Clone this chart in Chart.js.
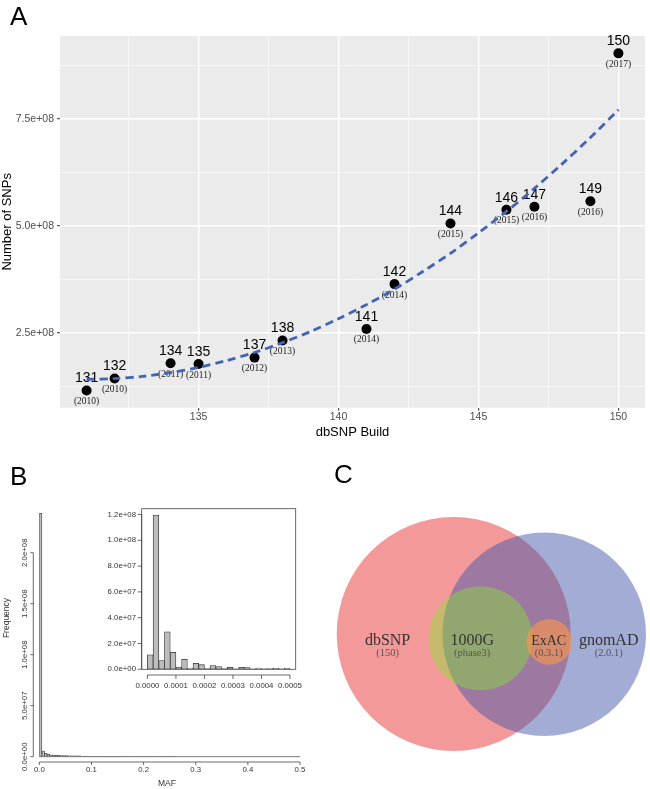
<!DOCTYPE html>
<html>
<head>
<meta charset="utf-8">
<script src="https://cdn.jsdelivr.net/npm/chart.js@4.4.0/dist/chart.umd.min.js"></script>
<style>
  body { margin: 0; background: #fff; }
  #page { position: relative; width: 650px; height: 789px; overflow: hidden; }
  canvas { position: absolute; }
  .tag { position: absolute; font: 26px/26px 'Liberation Sans', Arial, sans-serif; color: #000; }
</style>
</head>
<body>
<div id="page">
  <canvas id="chartA" width="650" height="440" style="left:0;top:0"></canvas>
  <canvas id="chartB" width="325" height="299" style="left:0;top:490px"></canvas>
  <canvas id="chartInset" width="230" height="200" style="left:95px;top:500px"></canvas>
  <canvas id="chartC" width="325" height="299" style="left:325px;top:490px"></canvas>
  <div class="tag" style="left:10px;top:3px">A</div>
  <div class="tag" style="left:10px;top:463px">B</div>
  <div class="tag" style="left:334px;top:461px">C</div>
</div>
<script>
// --- panel A: SNP count per dbSNP build
const builds = [131, 132, 134, 135, 137, 138, 141, 142, 144, 146, 147, 149, 150];
const snpCounts = [1.15e8, 1.43e8, 1.79e8, 1.77e8, 1.92e8, 2.32e8, 2.59e8, 3.64e8, 5.06e8, 5.38e8, 5.45e8, 5.58e8, 9.04e8];
const releaseYears = ['(2010)', '(2010)', '(2011)', '(2011)', '(2012)', '(2013)', '(2014)', '(2014)', '(2015)', '(2015)', '(2016)', '(2016)', '(2017)'];
const trendBuilds = [131, 132, 133, 134, 135, 136, 137, 138, 139, 140, 141, 142, 143, 144, 145, 146, 147, 148, 149, 150];
const trendCounts = [1.41e8, 1.43e8, 1.48e8, 1.57e8, 1.69e8, 1.85e8, 2.04e8, 2.27e8, 2.53e8, 2.83e8, 3.16e8, 3.52e8, 3.93e8, 4.36e8, 4.84e8, 5.34e8, 5.88e8, 6.46e8, 7.07e8, 7.72e8];
const buildTicks = [132.5, 135, 137.5, 140, 142.5, 145, 147.5, 150];
const buildTickLabels = ['', '135', '', '140', '', '145', '', '150'];
const countTicks = [1.25e8, 2.5e8, 3.75e8, 5e8, 6.25e8, 7.5e8, 8.75e8];
const countTickLabels = ['', '2.5e+08', '', '5.0e+08', '', '7.5e+08', ''];

// --- panel B: MAF histogram (bins of 0.005) and inset (bins of 0.00002)
const mafBinWidth = 0.005;
const mafCounts = [
  238600000, 5600000, 3300000, 2400000, 1900000, 1600000, 1400000, 1250000, 1150000, 1050000,
  1000000, 950000, 900000, 870000, 840000, 800000, 420000, 410000, 385000, 380000,
  372000, 358000, 351000, 346000, 338000, 336000, 329000, 327000, 318000, 316000,
  311000, 303000, 301000, 297000, 290000, 289000, 283000, 281000, 276000, 275000,
  270000, 268000, 266000, 261000, 259000, 257000, 252000, 251000, 247000, 246000,
  244000, 241000, 240000, 237000, 236000, 233000, 232000, 231000, 227000, 226000,
  225000, 221000, 220000, 219000, 215000, 214000, 213000, 209000, 208000, 207000,
  204000, 201000, 200000, 199000, 195000, 194000, 193000, 189000, 188000, 187000,
  184000, 183000, 179000, 178000, 177000, 173000, 172000, 171000, 168000, 166000,
  165000, 161000, 160000, 159000, 156000, 154000, 153000, 150000, 148000, 147000
];
const mafTicks = [0, 0.1, 0.2, 0.3, 0.4, 0.5];
const mafTickLabels = ['0.0', '0.1', '0.2', '0.3', '0.4', '0.5'];
const freqTicks = [0, 5e7, 1e8, 1.5e8, 2e8];
const freqTickLabels = ['0.0e+00', '5.0e+07', '1.0e+08', '1.5e+08', '2.0e+08'];

const insetBinWidth = 0.00002;
const insetCounts = [
  11200000, 119600000, 6800000, 29100000, 13200000, 1800000, 7800000, 1000000, 4700000, 3600000,
  500000, 2900000, 2100000, 500000, 1600000, 300000, 1500000, 1300000, 300000, 1000000,
  300000, 600000, 800000, 300000, 800000
];
const insetTicks = [0, 0.0001, 0.0002, 0.0003, 0.0004, 0.0005];
const insetTickLabels = ['0.0000', '0.0001', '0.0002', '0.0003', '0.0004', '0.0005'];
const insetFreqTicks = [0, 2e7, 4e7, 6e7, 8e7, 1e8, 1.2e8];
const insetFreqTickLabels = ['0.0e+00', '2.0e+07', '4.0e+07', '6.0e+07', '8.0e+07', '1.0e+08', '1.2e+08'];

// --- panel C: Venn of variant sources (units: dbSNP radius = 100)
const vennSets = ['dbSNP', 'gnomAD', '1000G', 'ExAC'];
const vennVersions = ['(150)', '(2.0.1)', '(phase3)', '(0.3.1)'];
const vennCx = [0, 77.4, 22.9, 81.7];
const vennCy = [0, -0.2, -3.7, -6.8];
const vennR = [100, 87, 44.4, 19.5];
const vennColors = ['rgba(234,52,54,0.5)', 'rgba(71,89,169,0.5)', 'rgba(130,235,40,0.4)', 'rgba(252,150,72,0.62)'];
const vennLabelX = [-56.5, 132.5, 15.8, 81.2];
const vennNameY = -9.8;
const vennSubY = -19.2;
const vennXRange = [-110, 167.8];
const vennYRange = [-132.5, 123.1];

Chart.defaults.font.family = "'Liberation Sans', Arial, sans-serif";
Chart.defaults.animation = false;
Chart.defaults.plugins.legend.display = false;
Chart.defaults.plugins.tooltip.enabled = false;

// grey ggplot panel
const panelBg = {
  id: 'panelBg',
  beforeDraw(chart, args, o) {
    if (!o.color) return;
    const {ctx, chartArea: a} = chart;
    ctx.save();
    ctx.fillStyle = o.color;
    ctx.fillRect(a.left, a.top, a.right - a.left, a.bottom - a.top);
    ctx.restore();
  }
};

// build number above each point, release year below
const buildLabels = {
  id: 'buildLabels',
  afterDatasetDraw(chart, args) {
    if (args.index !== 1) return;
    const {ctx} = chart;
    ctx.save();
    ctx.textAlign = 'center';
    ctx.textBaseline = 'middle';
    args.meta.data.forEach((pt, i) => {
      ctx.fillStyle = '#000';
      ctx.font = "14px 'Liberation Sans', Arial, sans-serif";
      ctx.fillText(String(builds[i]), pt.x, pt.y - 12);
      ctx.fillStyle = '#222';
      ctx.font = "9.5px 'Liberation Serif', 'Times New Roman', serif";
      ctx.fillText(releaseYears[i], pt.x, pt.y + 11);
    });
    ctx.restore();
  }
};

// base R style axes (detached lines spanning the tick range)
const baseAxes = {
  id: 'baseAxes',
  afterDraw(chart, args, o) {
    if (!o.xTicks) return;
    const {ctx, chartArea: a, scales: {x, y}} = chart;
    const line = (x0, y0, x1, y1) => { ctx.beginPath(); ctx.moveTo(x0, y0); ctx.lineTo(x1, y1); ctx.stroke(); };
    ctx.save();
    ctx.strokeStyle = '#444';
    ctx.fillStyle = '#333';
    ctx.lineWidth = 0.8;
    ctx.font = o.font;
    if (o.box) ctx.strokeRect(a.left, a.top, a.right - a.left, a.bottom - a.top);
    if (o.baseline) {
      ctx.strokeStyle = '#777';
      line(x.getPixelForValue(o.xTicks[0]), y.getPixelForValue(0), x.getPixelForValue(o.xTicks[o.xTicks.length - 1]), y.getPixelForValue(0));
      ctx.strokeStyle = '#444';
    }
    // x axis
    const xy = a.bottom + o.xGap;
    line(x.getPixelForValue(o.xTicks[0]), xy, x.getPixelForValue(o.xTicks[o.xTicks.length - 1]), xy);
    ctx.textAlign = 'center';
    ctx.textBaseline = 'middle';
    o.xTicks.forEach((v, i) => {
      const px = x.getPixelForValue(v);
      line(px, xy, px, xy + o.tick);
      ctx.fillText(o.xLabels[i], px, xy + o.xLabelDist);
    });
    // y axis
    const yx = a.left - o.yGap;
    line(yx, y.getPixelForValue(o.yTicks[0]), yx, y.getPixelForValue(o.yTicks[o.yTicks.length - 1]));
    o.yTicks.forEach((v, i) => {
      const py = y.getPixelForValue(v);
      line(yx - o.tick, py, yx, py);
      if (o.yRotate) {
        ctx.save();
        ctx.translate(yx - o.yLabelDist, py);
        ctx.rotate(-Math.PI / 2);
        ctx.textAlign = 'center';
        ctx.fillText(o.yLabels[i], 0, 0);
        ctx.restore();
      } else {
        ctx.textAlign = 'right';
        ctx.fillText(o.yLabels[i], yx - o.yLabelDist, py);
      }
    });
    // axis titles
    if (o.xTitle) {
      ctx.font = o.titleFont;
      ctx.textAlign = 'center';
      ctx.fillText(o.xTitle, o.xTitlePos[0], o.xTitlePos[1]);
      ctx.save();
      ctx.translate(o.yTitlePos[0], o.yTitlePos[1]);
      ctx.rotate(-Math.PI / 2);
      ctx.fillText(o.yTitle, 0, 0);
      ctx.restore();
    }
    ctx.restore();
  }
};

// Venn set names
const vennText = {
  id: 'vennText',
  afterDatasetsDraw(chart) {
    const {ctx, scales: {x, y}} = chart;
    ctx.save();
    ctx.textAlign = 'center';
    ctx.textBaseline = 'alphabetic';
    vennSets.forEach((name, i) => {
      const px = x.getPixelForValue(vennLabelX[i]);
      ctx.fillStyle = '#333';
      ctx.font = (name === 'ExAC' ? '14px' : '16px') + " 'Liberation Serif', 'Times New Roman', serif";
      ctx.fillText(name, px, y.getPixelForValue(vennNameY));
      ctx.fillStyle = '#555';
      ctx.font = "10.5px 'Liberation Serif', 'Times New Roman', serif";
      ctx.fillText(vennVersions[i], px, y.getPixelForValue(vennSubY));
    });
    ctx.restore();
  }
};

Chart.register(panelBg, baseAxes);

// ✅ Panel A
new Chart(document.getElementById('chartA'), {
  type: 'scatter',
  data: {
    datasets: [
      {
        type: 'line',
        data: trendBuilds.map((b, i) => ({x: b, y: trendCounts[i]})),
        borderColor: '#4264B4',
        borderWidth: 2.8,
        borderDash: [8, 5],
        pointRadius: 0,
        tension: 0.3,
        fill: false
      },
      {
        data: builds.map((b, i) => ({x: b, y: snpCounts[i]})),
        pointRadius: 5,
        pointBackgroundColor: '#000',
        pointBorderWidth: 0
      }
    ]
  },
  options: {
    responsive: false,
    events: [],
    layout: {padding: {top: 36, left: 0, right: 0, bottom: 0}},
    plugins: {panelBg: {color: '#EBEBEB'}},
    scales: {
      x: {
        type: 'linear',
        min: 130.05,
        max: 150.95,
        afterBuildTicks: s => { s.ticks = buildTicks.map(v => ({value: v})); },
        afterFit: s => { s.height = 32.3; },
        ticks: {
          callback: (v, i) => buildTickLabels[i],
          color: '#4D4D4D',
          font: {size: 10.5},
          padding: 0,
          maxRotation: 0,
          autoSkip: false
        },
        grid: {
          color: '#fff',
          lineWidth: c => (buildTickLabels[c.index] ? 1.4 : 0.6),
          tickColor: c => (buildTickLabels[c.index] ? '#333' : 'rgba(0,0,0,0)'),
          tickWidth: 1,
          tickLength: 3
        },
        border: {display: false},
        title: {display: true, text: 'dbSNP Build', color: '#000', font: {size: 13}, padding: 0}
      },
      y: {
        type: 'linear',
        min: 0.748e8,
        max: 9.446e8,
        afterBuildTicks: s => { s.ticks = countTicks.map(v => ({value: v})); },
        afterFit: s => { s.width = 60; },
        ticks: {
          callback: (v, i) => countTickLabels[i],
          color: '#4D4D4D',
          font: {size: 10.5},
          padding: 3,
          autoSkip: false
        },
        grid: {
          color: '#fff',
          lineWidth: c => (countTickLabels[c.index] ? 1.4 : 0.6),
          tickColor: c => (countTickLabels[c.index] ? '#333' : 'rgba(0,0,0,0)'),
          tickWidth: 1,
          tickLength: 3
        },
        border: {display: false},
        title: {display: true, text: 'Number of SNPs', color: '#000', font: {size: 13}, padding: 0}
      }
    }
  },
  plugins: [buildLabels]
});

// ✅ Panel B, main histogram
new Chart(document.getElementById('chartB'), {
  type: 'bar',
  data: {
    datasets: [{
      data: mafCounts.map((c, i) => ({x: (i + 0.5) * mafBinWidth, y: c})),
      backgroundColor: '#BDBDBD',
      borderColor: '#444',
      borderWidth: 0.8,
      borderSkipped: false,
      barPercentage: 1,
      categoryPercentage: 1
    }]
  },
  options: {
    responsive: false,
    events: [],
    layout: {padding: {left: 39.3, right: 25, top: 21.9, bottom: 32.3}},
    plugins: {
      baseAxes: {
        xTicks: mafTicks, xLabels: mafTickLabels,
        yTicks: freqTicks, yLabels: freqTickLabels,
        xGap: 5.3, yGap: 6, tick: 3, xLabelDist: 8, yLabelDist: 8.8,
        yRotate: true, baseline: true,
        font: "7.8px 'Liberation Sans', Arial, sans-serif",
        titleFont: "8.5px 'Liberation Sans', Arial, sans-serif",
        xTitle: 'MAF', xTitlePos: [167, 293.7],
        yTitle: 'Frequency', yTitlePos: [6.7, 128]
      }
    },
    scales: {
      x: {type: 'linear', min: 0, max: 0.5, offset: false, display: false},
      y: {min: 0, max: 2.4e8, display: false}
    }
  }
});

// ✅ Panel B, inset histogram
new Chart(document.getElementById('chartInset'), {
  type: 'bar',
  data: {
    datasets: [{
      data: insetCounts.map((c, i) => ({x: (i + 0.5) * insetBinWidth, y: c})),
      backgroundColor: '#BDBDBD',
      borderColor: '#333',
      borderWidth: 0.8,
      borderSkipped: false,
      barPercentage: 1,
      categoryPercentage: 1
    }]
  },
  options: {
    responsive: false,
    events: [],
    layout: {padding: {left: 46.7, right: 29.3, top: 8.7, bottom: 30.7}},
    plugins: {
      panelBg: {color: '#fff'},
      baseAxes: {
        xTicks: insetTicks, xLabels: insetTickLabels,
        yTicks: insetFreqTicks, yLabels: insetFreqTickLabels,
        xGap: 5.7, yGap: 0, tick: 4, xLabelDist: 10.7, yLabelDist: 5.7,
        yRotate: false, box: true, baseline: true,
        font: "7.8px 'Liberation Sans', Arial, sans-serif"
      }
    },
    scales: {
      x: {type: 'linear', min: -0.00002, max: 0.00052, offset: false, display: false},
      y: {min: 0, max: 1.245e8, display: false}
    }
  }
});

// ✅ Panel C, Venn circles (bubble radius converted from x units to pixels)
const canvasC = document.getElementById('chartC');
const vennPxPerUnit = canvasC.width / (vennXRange[1] - vennXRange[0]);
new Chart(canvasC, {
  type: 'bubble',
  data: {
    datasets: [{
      data: vennCx.map((cx, i) => ({x: cx, y: vennCy[i], r: vennR[i] * vennPxPerUnit})),
      backgroundColor: vennColors,
      hoverBackgroundColor: vennColors,
      borderWidth: 0,
      clip: false
    }]
  },
  options: {
    responsive: false,
    events: [],
    layout: {padding: 0, autoPadding: false},
    scales: {
      x: {type: 'linear', min: vennXRange[0], max: vennXRange[1], display: false},
      y: {type: 'linear', min: vennYRange[0], max: vennYRange[1], display: false}
    }
  },
  plugins: [vennText]
});
</script>
</body>
</html>
